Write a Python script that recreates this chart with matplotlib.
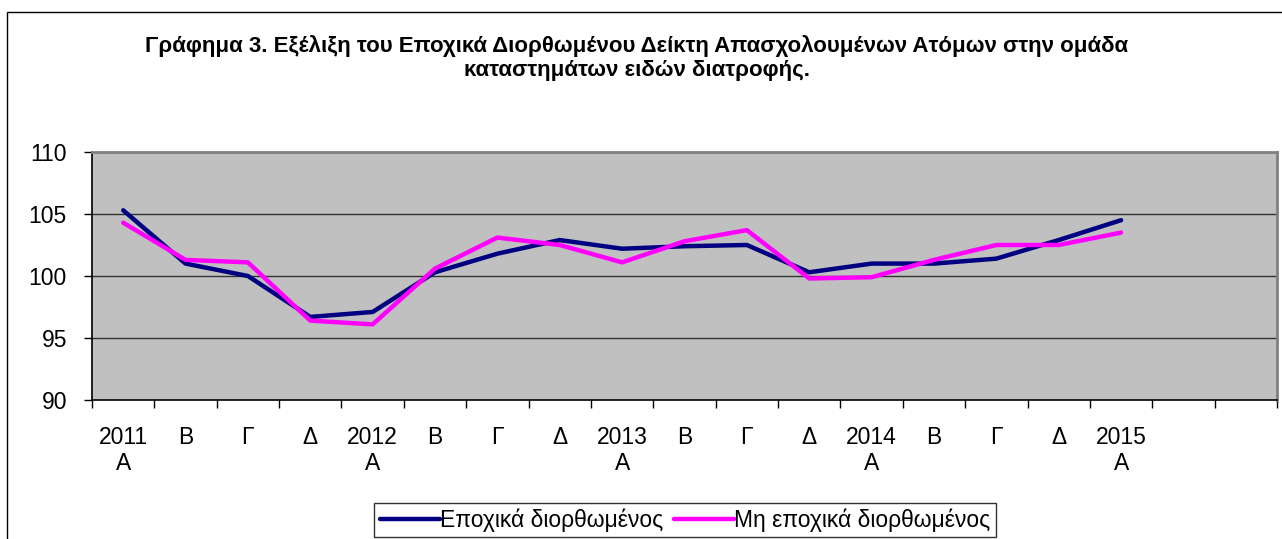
import numpy as np
import matplotlib
matplotlib.use("Agg")
import matplotlib.pyplot as plt
from matplotlib.patches import Rectangle

plt.rcParams["font.family"] = ["Liberation Sans", "DejaVu Sans"]

# ---------------------------------------------------------------------------
# Data
# ---------------------------------------------------------------------------
quarter_labels = [
    "2011\nΑ", "Β", "Γ", "Δ",
    "2012\nΑ", "Β", "Γ", "Δ",
    "2013\nΑ", "Β", "Γ", "Δ",
    "2014\nΑ", "Β", "Γ", "Δ",
    "2015\nΑ",
]
n_slots = 19  # two empty categories after 2015 Α

seas_adj = [105.3, 101.0, 100.0, 96.7, 97.1, 100.3, 101.8, 102.9, 102.2,
            102.4, 102.5, 100.3, 101.0, 101.0, 101.4, 102.9, 104.5]
not_seas_adj = [104.3, 101.3, 101.1, 96.4, 96.1, 100.6, 103.1, 102.5, 101.1,
                102.8, 103.7, 99.8, 99.9, 101.3, 102.5, 102.5, 103.5]

label_sa = "Εποχικά διορθωμένος"
label_nsa = "Μη εποχικά διορθωμένος"
title = ("Γράφημα 3. Εξέλιξη του Εποχικά Διορθωμένου Δείκτη Απασχολουμένων Ατόμων στην ομάδα\n"
         "καταστημάτων ειδών διατροφής.")

# ---------------------------------------------------------------------------
# Figure
# ---------------------------------------------------------------------------
W, H = 1282, 539
fig = plt.figure(figsize=(W / 100, H / 100), dpi=100)

# outer chart border
fig.patches.append(Rectangle((7 / W, -0.05), 1.1, 1 - 12 / H + 0.05,
                             transform=fig.transFigure, fill=False,
                             edgecolor="black", linewidth=1.0))

ax = fig.add_axes([92 / W, (H - 400) / H, 1185 / W, 248 / H])
ax.set_facecolor("#C0C0C0")

x = np.arange(len(seas_adj)) + 0.5
ax.plot(x, seas_adj, color="#000080", linewidth=3.2, label=label_sa,
        solid_capstyle="round", zorder=3)
ax.plot(x, not_seas_adj, color="#FF00FF", linewidth=3.2, label=label_nsa,
        solid_capstyle="round", zorder=3)

ax.set_xlim(0, n_slots)
ax.set_ylim(90, 110)
ax.set_yticks([90, 95, 100, 105, 110])
for yv in [95, 100, 105]:
    ax.axhline(yv, color="#333333", linewidth=1.0, zorder=1)

# category boundaries as ticks, labels at centres
ax.set_xticks(np.arange(n_slots + 1))
ax.set_xticklabels([])
ax.set_xticks(x, minor=True)
ax.set_xticklabels(quarter_labels, minor=True, fontsize=16.5, linespacing=1.15)
ax.tick_params(axis="x", which="minor", length=0, pad=19)
ax.tick_params(axis="x", which="major", length=6, width=1, color="black",
               direction="out")
ax.tick_params(axis="y", length=6, width=1, direction="out", labelsize=16.5,
               pad=12)

for side in ["top", "right"]:
    ax.spines[side].set_color("#808080")
    ax.spines[side].set_linewidth(2.0)
for side in ["left", "bottom"]:
    ax.spines[side].set_color("black")
    ax.spines[side].set_linewidth(1.2)

fig.text(637 / W, 1 - 58 / H, title, ha="center", va="center",
         fontsize=16, fontweight="bold", linespacing=1.2)

leg = ax.legend(loc="center", bbox_to_anchor=(685 / W, 1 - 520 / H),
                bbox_transform=fig.transFigure, ncol=2, frameon=True,
                fontsize=16.5, fancybox=False, handlelength=2.6,
                handletextpad=0.0, columnspacing=0.5, borderpad=0.25,
                borderaxespad=0)
leg.get_frame().set_edgecolor("black")
leg.get_frame().set_linewidth(1.0)

fig.savefig("out.png", dpi=100)
